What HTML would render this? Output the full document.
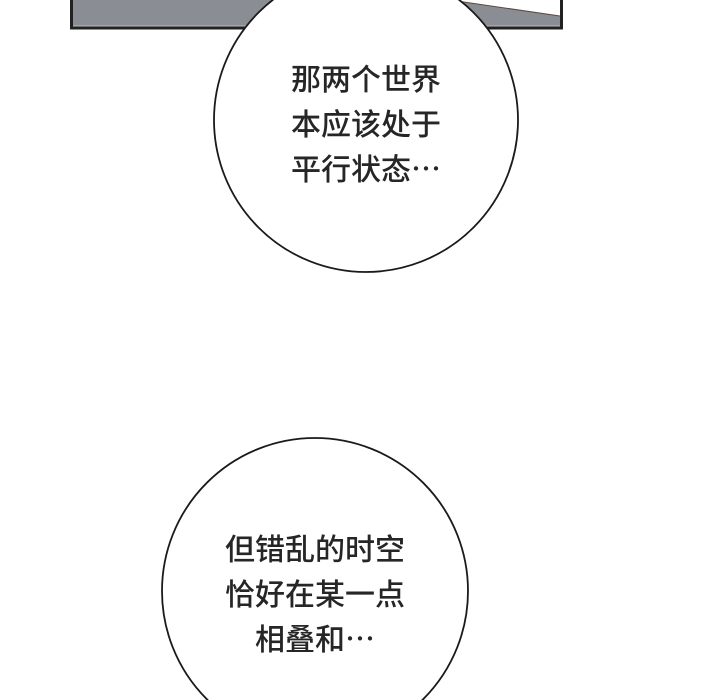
<!DOCTYPE html>
<html><head><meta charset="utf-8">
<style>
html,body{margin:0;padding:0;background:#fff;overflow:hidden;}
body{width:720px;height:700px;position:relative;overflow:hidden;}
.t{position:absolute;font-family:"Liberation Sans","Noto Sans CJK SC",sans-serif;font-size:30px;line-height:45px;color:#262626;text-align:center;white-space:nowrap;width:300px;font-weight:500;}
</style></head><body>
<svg width="720" height="700" style="position:absolute;left:0;top:0;overflow:hidden">
  <rect x="71.5" y="-5" width="490" height="33" fill="#8a8d93" stroke="#222" stroke-width="3"/>
  <line x1="73" y1="26" x2="560" y2="26" fill="none" stroke="#b8bbc0" stroke-width="1"/>
  <polygon points="450,0 560,0 560,16" fill="#fff"/>
  <line x1="450" y1="0" x2="560" y2="16" stroke="#5a4a40" stroke-width="1"/>
  <circle cx="366" cy="120" r="152" fill="#fff" stroke="#1a1a1a" stroke-width="1.8"/>
  <circle cx="315" cy="591" r="153" fill="#fff" stroke="#1a1a1a" stroke-width="1.8"/>
</svg>
<div class="t" style="left:216px;top:58px">那两个世界<br>本应该处于<br>平行状态⋯</div>
<div class="t" style="left:165px;top:528px">但错乱的时空<br>恰好在某一点<br>相叠和⋯</div>
</body></html>
